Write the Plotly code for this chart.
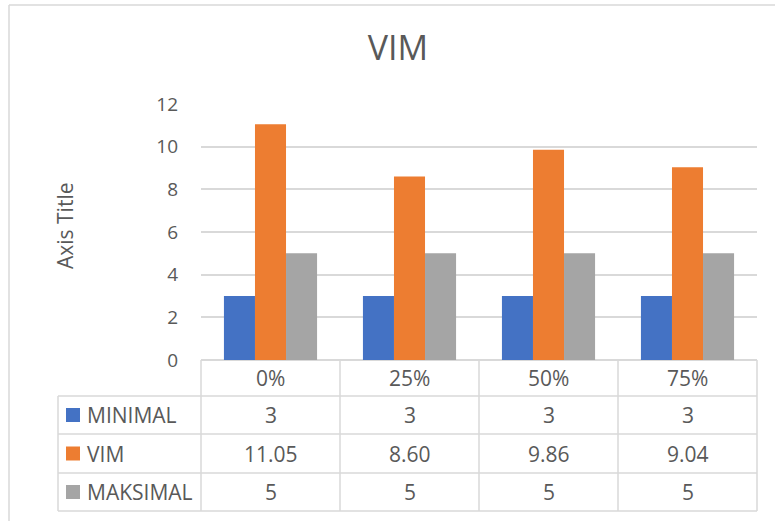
import plotly.graph_objects as go

# Data
categories = ["0%", "25%", "50%", "75%"]
series_names = ["MINIMAL", "VIM", "MAKSIMAL"]
minimal = [3, 3, 3, 3]
vim = [11.05, 8.60, 9.86, 9.04]
maksimal = [5, 5, 5, 5]
series_values = [minimal, vim, maksimal]
series_formats = ["{:g}", "{:.2f}", "{:g}"]
series_colors = ["#4472C4", "#ED7D31", "#A5A5A5"]
y_ticks = [0, 2, 4, 6, 8, 10, 12]

W, H = 775, 521
TEXT = "#595959"
LINE = "#D9D9D9"
FONT = "Open Sans"
TABLE_SIZE = 21


def px(x):
    return x / W


def py(y):
    return 1 - y / H


# Layout geometry (pixels)
plot_left, plot_right = 201, 757
plot_top, plot_bottom = 104, 360
legend_left = 58
row_edges = [360, 396, 434, 473, 511]
col_edges = [plot_left + i * (plot_right - plot_left) / len(categories)
             for i in range(len(categories) + 1)]

fig = go.Figure()
for name, vals, color in zip(series_names, series_values, series_colors):
    fig.add_trace(go.Bar(x=categories, y=vals, name=name,
                         marker=dict(color=color, line=dict(width=0))))

shapes = []
annotations = []


def hline(x0, x1, y):
    shapes.append(dict(type="line", xref="paper", yref="paper",
                       x0=px(x0), x1=px(x1), y0=py(y), y1=py(y),
                       line=dict(color=LINE, width=1.5)))


def vline(x, y0, y1):
    shapes.append(dict(type="line", xref="paper", yref="paper",
                       x0=px(x), x1=px(x), y0=py(y0), y1=py(y1),
                       line=dict(color=LINE, width=1.5)))


def label(x, y, text, size, xanchor="center", angle=0):
    annotations.append(dict(x=px(x), y=py(y), xref="paper", yref="paper",
                            text=text, showarrow=False,
                            xanchor=xanchor, yanchor="middle",
                            textangle=angle,
                            font=dict(family=FONT, size=size, color=TEXT)))


# chart frame (left and top edges)
vline(9, 5, H)
hline(9, W, 5)

# data table grid
for yv in row_edges[1:]:
    hline(legend_left, plot_right, yv)
vline(legend_left, row_edges[1], row_edges[-1])
for xv in col_edges:
    vline(xv, row_edges[0], row_edges[-1])

# category header row
for j, cat in enumerate(categories):
    cx = (col_edges[j] + col_edges[j + 1]) / 2
    label(cx, (row_edges[0] + row_edges[1]) / 2, cat, TABLE_SIZE)

# series rows with legend keys
for i, (name, vals, fmt, color) in enumerate(
        zip(series_names, series_values, series_formats, series_colors)):
    cy = (row_edges[i + 1] + row_edges[i + 2]) / 2
    shapes.append(dict(type="rect", xref="paper", yref="paper",
                       x0=px(66), x1=px(80), y0=py(cy - 7), y1=py(cy + 7),
                       fillcolor=color, line=dict(width=0)))
    label(85, cy, name, TABLE_SIZE, xanchor="left")
    for j, v in enumerate(vals):
        cx = (col_edges[j] + col_edges[j + 1]) / 2
        label(cx, cy, fmt.format(v), TABLE_SIZE)

# axis title
label(65, 226, "Axis Title", 21, angle=-90)

fig.update_layout(
    width=W, height=H,
    margin=dict(l=0, r=0, t=0, b=0, autoexpand=False),
    paper_bgcolor="white", plot_bgcolor="white",
    title=dict(text="VIM", x=px(398), xanchor="center",
               y=py(48), yanchor="middle", automargin=False,
               font=dict(family=FONT, size=34, color=TEXT)),
    barmode="group", bargap=0.33, bargroupgap=0,
    showlegend=False,
    xaxis=dict(domain=[px(plot_left), px(plot_right)], showticklabels=False,
               showgrid=False, zeroline=False, showline=False, ticks="",
               automargin=False),
    yaxis=dict(domain=[py(plot_bottom), py(plot_top)], range=[0, 12],
               tickvals=y_ticks, showgrid=True, gridcolor=LINE, gridwidth=1.5,
               zeroline=True, zerolinecolor=LINE, zerolinewidth=1.5,
               showline=False, ticks="", ticklabelstandoff=22,
               automargin=False,
               tickfont=dict(family=FONT, size=19, color=TEXT)),
    shapes=shapes, annotations=annotations,
)

fig.write_html("out.html")
